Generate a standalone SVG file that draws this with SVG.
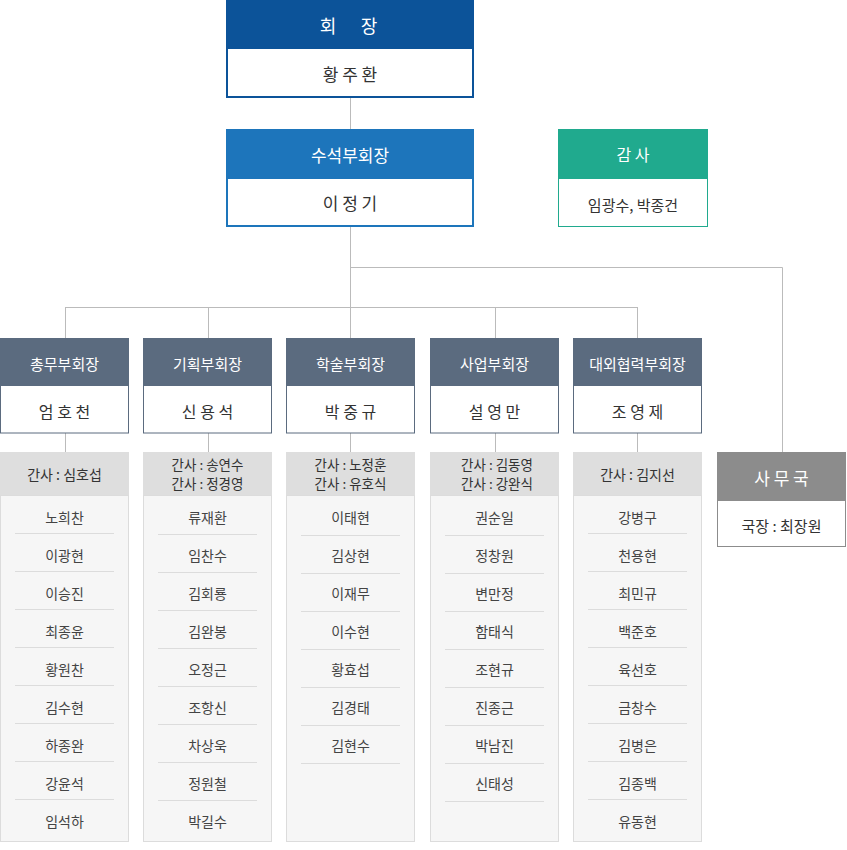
<svg xmlns="http://www.w3.org/2000/svg" width="847" height="850" viewBox="0 0 847 850">
<style>
text{font-family:"Noto Sans CJK KR","Noto Sans",sans-serif;text-anchor:middle;dominant-baseline:central}
.w{fill:#fff}
.n{fill:#333}
.ln{fill:none;stroke:#bbb;stroke-width:1}
.hd{fill:#5b6b7f}
.db{fill:#fff;stroke:#5b6b7f;stroke-width:1}
.gh{fill:#dedede}
.lb{fill:#f6f6f6;stroke:#dcdcdc;stroke-width:1}
.sp{stroke:#dcdcdc;stroke-width:1}
.t15{font-size:15px}
.t16{font-size:16px}
.t14{font-size:14px}
.t2{font-size:13.5px}
.m{font-size:14px;fill:#444}
</style>
<g id="connectors">
<path class="ln" d="M350.5 98V129M350.5 227V307M350.5 267.5H782.5V452M65.5 307.5H637.5M65.5 307V338M208.5 307V338M350.5 307V338M495.5 307V338M637.5 307V338M65.5 433V452M208.5 433V452M350.5 433V452M495.5 433V452M637.5 433V452"/>
</g>
<g id="president">
<rect x="227" y="1" width="246" height="96" fill="#fff" stroke="#0c5399" stroke-width="2"/>
<rect x="226" y="0" width="248" height="49" fill="#0c5399"/>
<text class="w" x="328" y="25" font-size="18">회</text>
<text class="w" x="369" y="25" font-size="18">장</text>
<text class="n" x="350" y="73" font-size="17">황 주 환</text>
</g>
<g id="senior-vp">
<rect x="227" y="130" width="246" height="96" fill="#fff" stroke="#1d75bb" stroke-width="2"/>
<rect x="226" y="129" width="248" height="50" fill="#1d75bb"/>
<text class="w" x="350" y="154" font-size="17">수석부회장</text>
<text class="n" x="350" y="202" font-size="17">이 정 기</text>
</g>
<g id="auditor">
<rect x="558.5" y="129.5" width="149" height="97" fill="#fff" stroke="#20aa8e"/>
<rect x="558" y="129" width="150" height="50" fill="#20aa8e"/>
<text class="w t16" x="633" y="154">감 사</text>
<text class="n t15" x="633" y="204">임광수, 박종건</text>
</g>
<g id="secretariat">
<rect x="717.5" y="452.5" width="128" height="94" fill="#fff" stroke="#8c8c8c"/>
<rect x="717" y="452" width="129" height="49" fill="#8c8c8c"/>
<text class="w" x="781.5" y="477" font-size="17">사 무 국</text>
<text class="n t15" x="781.5" y="525">국장 : 최장원</text>
</g>
<g id="dept-general">
<rect class="db" x="0.5" y="338.5" width="128" height="94.5"/>
<rect class="hd" x="0" y="338" width="129" height="48"/>
<text class="w t15" x="64.5" y="363">총무부회장</text>
<text class="n t16" x="64.5" y="411">엄 호 천</text>
<rect class="lb" x="0.5" y="495.5" width="128" height="346"/>
<rect class="gh" x="0" y="452" width="129" height="43"/>
<text class="n t14" x="64.5" y="474">간사 : 심호섭</text>
<path class="sp" d="M15 533.5H114M15 571.5H114M15 609.5H114M15 647.5H114M15 685.5H114M15 723.5H114M15 761.5H114M15 799.5H114"/>
<text class="m" x="64.5" y="517">노희찬</text>
<text class="m" x="64.5" y="555">이광현</text>
<text class="m" x="64.5" y="593">이승진</text>
<text class="m" x="64.5" y="631">최종윤</text>
<text class="m" x="64.5" y="669">황원찬</text>
<text class="m" x="64.5" y="707">김수현</text>
<text class="m" x="64.5" y="745">하종완</text>
<text class="m" x="64.5" y="783">강윤석</text>
<text class="m" x="64.5" y="821">임석하</text>
</g>
<g id="dept-planning">
<rect class="db" x="143.5" y="338.5" width="128" height="94.5"/>
<rect class="hd" x="143" y="338" width="129" height="48"/>
<text class="w t15" x="207.5" y="363">기획부회장</text>
<text class="n t16" x="207.5" y="411">신 용 석</text>
<rect class="lb" x="143.5" y="495.5" width="128" height="346"/>
<rect class="gh" x="143" y="452" width="129" height="43"/>
<text class="n t2" x="207.5" y="464">간사 : 송연수</text>
<text class="n t2" x="207.5" y="483">간사 : 정경영</text>
<path class="sp" d="M158 534.5H257M158 572.5H257M158 610.5H257M158 648.5H257M158 686.5H257M158 724.5H257M158 762.5H257M158 800.5H257"/>
<text class="m" x="207.5" y="517">류재환</text>
<text class="m" x="207.5" y="555">임찬수</text>
<text class="m" x="207.5" y="593">김회룡</text>
<text class="m" x="207.5" y="631">김완봉</text>
<text class="m" x="207.5" y="669">오정근</text>
<text class="m" x="207.5" y="707">조항신</text>
<text class="m" x="207.5" y="745">차상욱</text>
<text class="m" x="207.5" y="783">정원철</text>
<text class="m" x="207.5" y="821">박길수</text>
</g>
<g id="dept-academic">
<rect class="db" x="286.5" y="338.5" width="128" height="94.5"/>
<rect class="hd" x="286" y="338" width="129" height="48"/>
<text class="w t15" x="350.5" y="363">학술부회장</text>
<text class="n t16" x="350.5" y="411">박 중 규</text>
<rect class="lb" x="286.5" y="495.5" width="128" height="346"/>
<rect class="gh" x="286" y="452" width="129" height="43"/>
<text class="n t2" x="350.5" y="464">간사 : 노정훈</text>
<text class="n t2" x="350.5" y="483">간사 : 유호식</text>
<path class="sp" d="M301 535.5H400M301 573.5H400M301 611.5H400M301 649.5H400M301 687.5H400M301 725.5H400M301 763.5H400"/>
<text class="m" x="350.5" y="517">이태현</text>
<text class="m" x="350.5" y="555">김상현</text>
<text class="m" x="350.5" y="593">이재무</text>
<text class="m" x="350.5" y="631">이수현</text>
<text class="m" x="350.5" y="669">황효섭</text>
<text class="m" x="350.5" y="707">김경태</text>
<text class="m" x="350.5" y="745">김현수</text>
</g>
<g id="dept-business">
<rect class="db" x="430.5" y="338.5" width="128" height="94.5"/>
<rect class="hd" x="430" y="338" width="129" height="48"/>
<text class="w t15" x="494.5" y="363">사업부회장</text>
<text class="n t16" x="494.5" y="411">설 영 만</text>
<rect class="lb" x="430.5" y="495.5" width="128" height="346"/>
<rect class="gh" x="430" y="452" width="129" height="43"/>
<text class="n t2" x="497" y="464">간사 : 김동영</text>
<text class="n t2" x="497" y="483">간사 : 강완식</text>
<path class="sp" d="M445 535.5H544M445 573.5H544M445 611.5H544M445 649.5H544M445 687.5H544M445 725.5H544M445 763.5H544M445 801.5H544"/>
<text class="m" x="494.5" y="517">권순일</text>
<text class="m" x="494.5" y="555">정창원</text>
<text class="m" x="494.5" y="593">변만정</text>
<text class="m" x="494.5" y="631">함태식</text>
<text class="m" x="494.5" y="669">조현규</text>
<text class="m" x="494.5" y="707">진종근</text>
<text class="m" x="494.5" y="745">박남진</text>
<text class="m" x="494.5" y="783">신태성</text>
</g>
<g id="dept-external">
<rect class="db" x="573.5" y="338.5" width="128" height="94.5"/>
<rect class="hd" x="573" y="338" width="129" height="48"/>
<text class="w t15" x="637.5" y="363">대외협력부회장</text>
<text class="n t16" x="637.5" y="411">조 영 제</text>
<rect class="lb" x="573.5" y="495.5" width="128" height="346"/>
<rect class="gh" x="573" y="452" width="129" height="43"/>
<text class="n t14" x="637.5" y="474">간사 : 김지선</text>
<path class="sp" d="M588 533.5H687M588 571.5H687M588 609.5H687M588 647.5H687M588 685.5H687M588 723.5H687M588 761.5H687M588 799.5H687"/>
<text class="m" x="637.5" y="517">강병구</text>
<text class="m" x="637.5" y="555">천용현</text>
<text class="m" x="637.5" y="593">최민규</text>
<text class="m" x="637.5" y="631">백준호</text>
<text class="m" x="637.5" y="669">육선호</text>
<text class="m" x="637.5" y="707">금창수</text>
<text class="m" x="637.5" y="745">김병은</text>
<text class="m" x="637.5" y="783">김종백</text>
<text class="m" x="637.5" y="821">유동현</text>
</g>
</svg>
